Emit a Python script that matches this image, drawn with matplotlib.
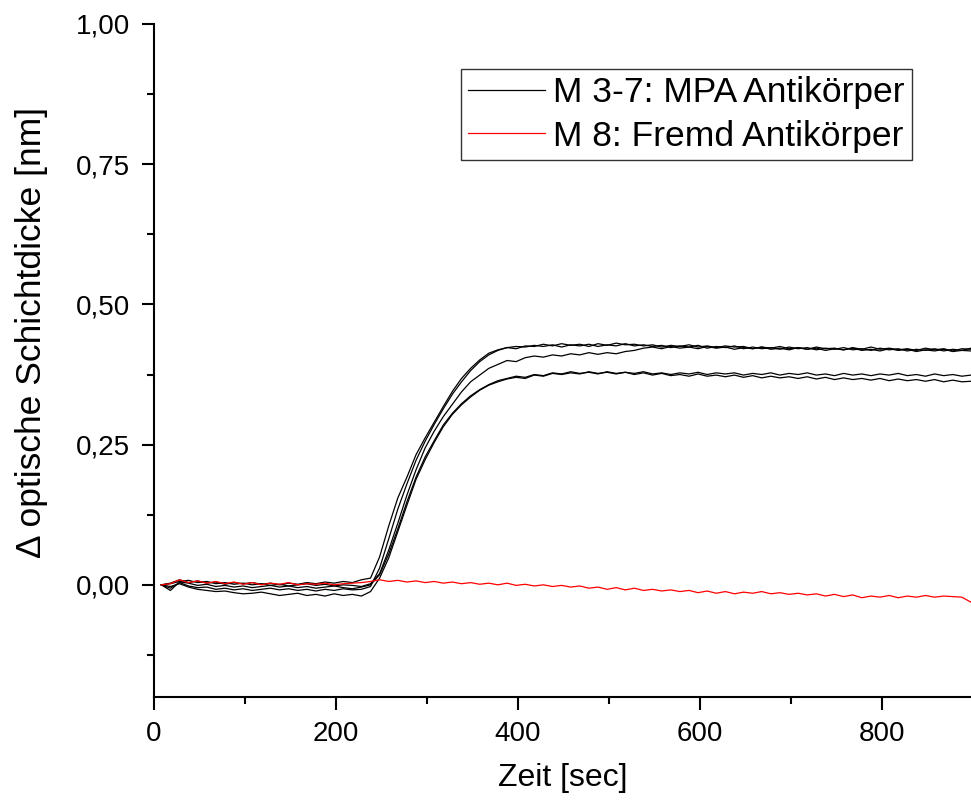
import numpy as np
import matplotlib
matplotlib.use("Agg")
import matplotlib.pyplot as plt
from matplotlib.ticker import MultipleLocator, FuncFormatter

plt.rcParams['font.family'] = ['Liberation Sans', 'DejaVu Sans']

# time axis [sec], one sample every 10 s
zeit = np.arange(8, 899, 10)

# M 3-7: MPA Antikoerper (five measurements)
m_a = [0.000, 0.003, 0.009, 0.004, 0.007, 0.003, 0.005, 0.001, 0.004, 0.002,
       0.004, 0.001, 0.003, 0.000, 0.003, 0.001, 0.004, 0.002, 0.005, 0.003,
       0.006, 0.004, 0.009, 0.012, 0.050, 0.105, 0.155, 0.192, 0.232, 0.262,
       0.290, 0.318, 0.345, 0.368, 0.386, 0.401, 0.413, 0.419, 0.423, 0.421,
       0.426, 0.425, 0.429, 0.426, 0.430, 0.427, 0.429, 0.425, 0.430, 0.427,
       0.431, 0.428, 0.429, 0.426, 0.428, 0.424, 0.427, 0.425, 0.428, 0.424,
       0.426, 0.423, 0.426, 0.424, 0.425, 0.421, 0.424, 0.422, 0.425, 0.421,
       0.423, 0.420, 0.424, 0.421, 0.422, 0.419, 0.423, 0.420, 0.424, 0.420,
       0.422, 0.419, 0.421, 0.418, 0.422, 0.419, 0.421, 0.417, 0.421, 0.420]
m_b = [0.000, -0.006, 0.004, -0.002, -0.005, -0.004, -0.008, -0.006, -0.009, -0.007,
       -0.010, -0.008, -0.006, -0.009, -0.007, -0.010, -0.008, -0.011, -0.008, -0.010,
       -0.007, -0.009, -0.008, -0.003, 0.030, 0.082, 0.135, 0.180, 0.222, 0.256,
       0.286, 0.314, 0.340, 0.362, 0.382, 0.398, 0.410, 0.418, 0.423, 0.425,
       0.424, 0.427, 0.425, 0.428, 0.424, 0.428, 0.426, 0.429, 0.425, 0.428,
       0.426, 0.430, 0.426, 0.428, 0.425, 0.427, 0.423, 0.426, 0.424, 0.427,
       0.422, 0.425, 0.423, 0.426, 0.421, 0.424, 0.421, 0.423, 0.420, 0.424,
       0.421, 0.423, 0.419, 0.422, 0.420, 0.423, 0.419, 0.421, 0.418, 0.422,
       0.419, 0.421, 0.417, 0.420, 0.418, 0.421, 0.417, 0.420, 0.418, 0.422]
m_c = [0.000, 0.002, 0.006, 0.008, 0.004, 0.006, 0.002, 0.004, 0.001, 0.003,
       0.000, 0.002, -0.001, 0.001, -0.002, 0.000, 0.002, -0.001, 0.001, -0.002,
       0.000, -0.001, -0.003, 0.002, 0.020, 0.062, 0.110, 0.160, 0.205, 0.244,
       0.274, 0.300, 0.322, 0.344, 0.362, 0.374, 0.386, 0.393, 0.400, 0.398,
       0.405, 0.408, 0.406, 0.410, 0.408, 0.412, 0.410, 0.414, 0.411, 0.414,
       0.412, 0.416, 0.418, 0.422, 0.424, 0.421, 0.425, 0.422, 0.424, 0.421,
       0.425, 0.422, 0.424, 0.420, 0.423, 0.421, 0.424, 0.420, 0.422, 0.419,
       0.423, 0.420, 0.422, 0.418, 0.421, 0.419, 0.422, 0.418, 0.420, 0.417,
       0.421, 0.418, 0.420, 0.416, 0.419, 0.417, 0.420, 0.416, 0.418, 0.417]
m_d = [0.000, -0.003, 0.002, -0.004, -0.008, -0.010, -0.012, -0.011, -0.014, -0.016,
       -0.015, -0.013, -0.016, -0.019, -0.017, -0.015, -0.019, -0.017, -0.020, -0.016,
       -0.019, -0.017, -0.020, -0.012, 0.012, 0.048, 0.095, 0.142, 0.188, 0.223,
       0.254, 0.282, 0.304, 0.321, 0.335, 0.347, 0.356, 0.362, 0.367, 0.370,
       0.368, 0.374, 0.372, 0.377, 0.375, 0.378, 0.376, 0.380, 0.377, 0.379,
       0.376, 0.379, 0.377, 0.380, 0.376, 0.378, 0.375, 0.378, 0.376, 0.379,
       0.375, 0.378, 0.376, 0.378, 0.374, 0.377, 0.375, 0.378, 0.374, 0.377,
       0.375, 0.378, 0.374, 0.376, 0.373, 0.377, 0.374, 0.376, 0.373, 0.376,
       0.374, 0.377, 0.373, 0.375, 0.372, 0.376, 0.373, 0.375, 0.372, 0.374]
m_e = [0.000, -0.010, 0.005, 0.003, -0.001, 0.001, -0.003, -0.001, -0.004, -0.002,
       -0.005, -0.003, -0.001, -0.004, -0.002, -0.005, -0.003, -0.006, -0.004, -0.002,
       -0.005, -0.007, -0.004, 0.000, 0.018, 0.055, 0.100, 0.148, 0.192, 0.228,
       0.257, 0.285, 0.306, 0.323, 0.337, 0.348, 0.357, 0.364, 0.368, 0.372,
       0.370, 0.375, 0.373, 0.378, 0.376, 0.380, 0.377, 0.379, 0.376, 0.380,
       0.377, 0.379, 0.375, 0.378, 0.374, 0.377, 0.373, 0.375, 0.372, 0.376,
       0.372, 0.374, 0.371, 0.374, 0.370, 0.373, 0.369, 0.372, 0.369, 0.371,
       0.368, 0.371, 0.367, 0.370, 0.366, 0.369, 0.366, 0.368, 0.365, 0.368,
       0.364, 0.367, 0.364, 0.366, 0.363, 0.366, 0.362, 0.365, 0.362, 0.363]

# M 8: Fremd Antikoerper
m_8 = [0.000, 0.002, 0.009, 0.004, 0.007, 0.003, 0.006, 0.002, 0.005, 0.001,
       0.004, 0.000, 0.003, 0.001, 0.004, 0.000, 0.002, 0.001, 0.003, 0.000,
       0.002, 0.003, 0.004, 0.006, 0.009, 0.006, 0.008, 0.005, 0.007, 0.004,
       0.006, 0.003, 0.005, 0.002, 0.004, 0.001, 0.003, 0.000, 0.003, -0.001,
       0.001, -0.002, 0.000, -0.003, -0.001, -0.004, -0.002, -0.006, -0.004, -0.008,
       -0.005, -0.009, -0.006, -0.010, -0.008, -0.011, -0.009, -0.012, -0.010, -0.014,
       -0.011, -0.015, -0.012, -0.016, -0.013, -0.015, -0.012, -0.016, -0.014, -0.017,
       -0.015, -0.018, -0.016, -0.020, -0.017, -0.021, -0.018, -0.023, -0.020, -0.022,
       -0.019, -0.023, -0.020, -0.022, -0.019, -0.022, -0.020, -0.021, -0.022, -0.031]

fig = plt.figure(figsize=(9.71, 8.0), dpi=100)
ax = fig.add_axes([154 / 971, 103 / 800, 817 / 971, 673 / 800])

for i, y in enumerate([m_a, m_b, m_c, m_d, m_e]):
    ax.plot(zeit, y, color='black', lw=0.9,
            label='M 3-7: MPA Antikörper' if i == 0 else None)
ax.plot(zeit, m_8, color='red', lw=0.9, label='M 8: Fremd Antikörper')

ax.set_xlim(0, 898)
ax.set_ylim(-0.2, 1.0)
ax.spines['top'].set_visible(False)
ax.spines['right'].set_visible(False)
ax.spines['left'].set_linewidth(1.5)
ax.spines['bottom'].set_linewidth(1.5)

ax.xaxis.set_major_locator(MultipleLocator(200))
ax.xaxis.set_minor_locator(MultipleLocator(100))
ax.yaxis.set_major_locator(MultipleLocator(0.25))
ax.yaxis.set_minor_locator(MultipleLocator(0.125))
ax.yaxis.set_major_formatter(FuncFormatter(lambda v, p: f'{v:.2f}'.replace('.', ',')))
ax.tick_params(which='major', direction='out', length=9, width=1.5, labelsize=20, pad=8)
ax.tick_params(which='minor', direction='out', length=5, width=1.5)

ax.set_xlabel('Zeit [sec]', fontsize=23, labelpad=12)
ax.set_ylabel('Δ optische Schichtdicke [nm]', fontsize=25.5, va='center')
ax.yaxis.set_label_coords((31 - 154) / 817, 0.541)

leg = ax.legend(loc='upper right', bbox_to_anchor=(912 / 971, 731 / 800),
                bbox_transform=fig.transFigure, fontsize=25.5, frameon=True,
                fancybox=False, edgecolor='black', handlelength=2.15,
                handletextpad=0.25, borderpad=0.2, labelspacing=0.3,
                borderaxespad=0)
leg.get_frame().set_linewidth(1.0)

fig.savefig('out.png', dpi=100)
